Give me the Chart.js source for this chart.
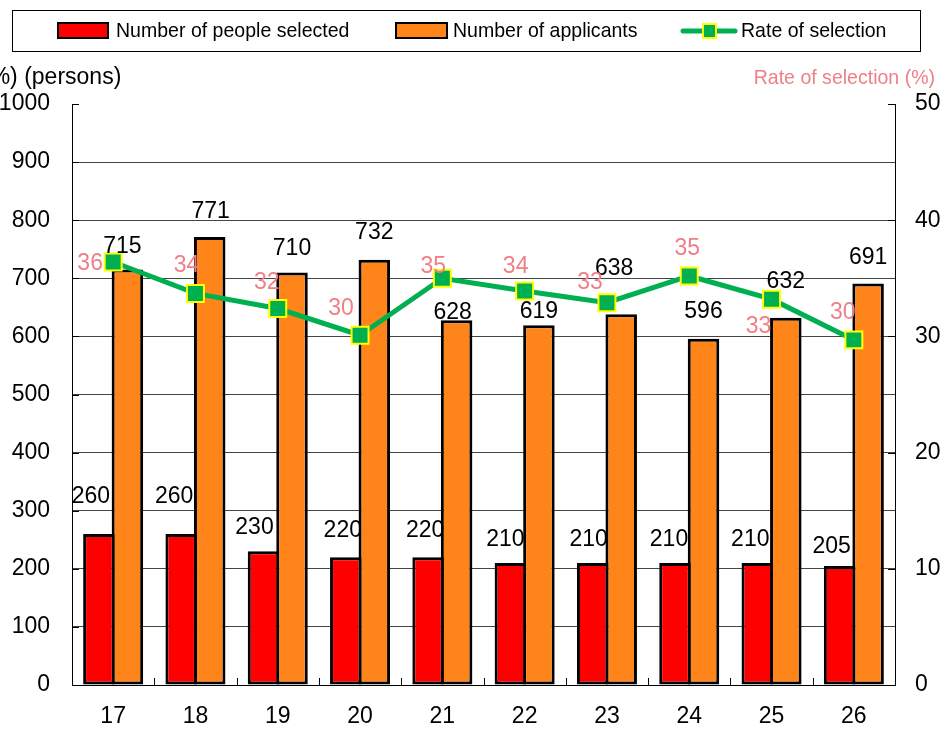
<!DOCTYPE html>
<html><head><meta charset="utf-8">
<script src="https://cdn.jsdelivr.net/npm/chart.js@4/dist/chart.umd.min.js"></script>
<style>html,body{margin:0;padding:0;background:#fff}canvas{display:block}</style>
</head><body>
<canvas id="c" width="943" height="736"></canvas>
<script>
// ---- data ----
const categories = ['17','18','19','20','21','22','23','24','25','26'];
const selected   = [260,260,230,220,220,210,210,210,210,205];
const applicants = [715,771,710,732,628,619,638,596,632,691];
const rates      = [36.4,33.7,32.4,30.1,35.0,33.9,32.9,35.2,33.2,29.7];
const leftTicks  = [0,100,200,300,400,500,600,700,800,900,1000];
const rightTicks = [0,10,20,30,40,50];
const seriesNames = ['Number of people selected','Number of applicants','Rate of selection'];
const leftTitle = '(%) (persons)';
const rightTitle = 'Rate of selection (%)';

// ---- label placement (style) ----
const selShift  = [[-8,-37],[-7,-37],[-9,-24],[-3,-27],[-3,-27],[-5,-23],[-4,-23],[-6,-23],[-7,-23],[-8,-19]];
const appShift  = [[-5,-23],[1,-25],[0,-24],[0,-27],[-4,-7],[0,-14],[-7,-46],[0,-27],[0,-36],[0,-26]];
const rateShift = [[-23,2],[-9,-28],[-11,-26],[-19,-27],[-9,-12],[-9,-24],[-17,-20],[-2,-27],[-13,27],[-11,-27]];

const FONT = "'Liberation Sans', Arial, sans-serif";
const RED = '#FF0000', ORANGE = '#FF8419', GREEN = '#00B050', YELLOW = '#FFFF00', PINK = '#EF7F87';

function txt(ctx, s, x, y, size, color, align, sx) {
  ctx.save();
  ctx.font = size + 'px ' + FONT;
  ctx.fillStyle = color;
  ctx.textAlign = align;
  ctx.textBaseline = 'middle';
  ctx.translate(x, y);
  ctx.scale(sx || 1, 1);
  ctx.fillText(s, 0, 0);
  ctx.restore();
}

const deco = {
  id: 'deco',
  afterDatasetsDraw(chart) {
    const ctx = chart.ctx, ca = chart.chartArea;
    const ys = chart.scales.y, y1 = chart.scales.y1;
    ctx.save();
    ctx.strokeStyle = '#000'; ctx.lineWidth = 1;
    ctx.beginPath();
    leftTicks.forEach(v => { const py = Math.round(ys.getPixelForValue(v)) + 0.5; ctx.moveTo(ca.left, py); ctx.lineTo(ca.left + 7, py); });
    rightTicks.forEach(v => { const py = Math.round(y1.getPixelForValue(v)) + 0.5; ctx.moveTo(ca.right - 7, py); ctx.lineTo(ca.right, py); });
    const cw = (ca.right - ca.left) / categories.length;
    for (let i = 1; i < categories.length; i++) { const px = Math.round(ca.left + i * cw) + 0.5; ctx.moveTo(px, ca.bottom - 7); ctx.lineTo(px, ca.bottom); }
    ctx.stroke();
    ctx.restore();

    // value labels
    const m0 = chart.getDatasetMeta(0), m1 = chart.getDatasetMeta(1), m2 = chart.getDatasetMeta(2);
    m0.data.forEach((el, i) => txt(ctx, String(selected[i]), el.x + selShift[i][0], el.y + selShift[i][1], 23, '#000', 'center'));
    m1.data.forEach((el, i) => txt(ctx, String(applicants[i]), el.x + appShift[i][0], el.y + appShift[i][1], 23, '#000', 'center'));
    m2.data.forEach((el, i) => txt(ctx, String(Math.round(rates[i])), el.x + rateShift[i][0], el.y + rateShift[i][1], 23, PINK, 'center'));
  },
  afterDraw(chart) {
    const ctx = chart.ctx;
    // axis titles
    txt(ctx, leftTitle, -18, 78, 23, '#000', 'left');
    txt(ctx, rightTitle, 935, 78, 21, PINK, 'right', 0.93);
    // legend
    ctx.save();
    ctx.strokeStyle = '#000'; ctx.lineWidth = 1;
    ctx.strokeRect(12.5, 10.5, 908, 41);
    ctx.lineWidth = 2;
    ctx.fillStyle = RED; ctx.fillRect(58, 23, 50, 15); ctx.strokeRect(58, 23, 50, 15);
    ctx.fillStyle = ORANGE; ctx.fillRect(396, 23, 51, 15); ctx.strokeRect(396, 23, 51, 15);
    ctx.strokeStyle = GREEN; ctx.lineWidth = 5; ctx.lineCap = 'round';
    ctx.beginPath(); ctx.moveTo(683, 31); ctx.lineTo(735, 31); ctx.stroke();
    ctx.fillStyle = GREEN; ctx.fillRect(703, 24, 13, 14);
    ctx.strokeStyle = YELLOW; ctx.lineWidth = 2; ctx.strokeRect(703, 24, 13, 14);
    ctx.restore();
    txt(ctx, seriesNames[0], 116, 31, 21, '#000', 'left', 0.93);
    txt(ctx, seriesNames[1], 453, 31, 21, '#000', 'left', 0.93);
    txt(ctx, seriesNames[2], 741, 31, 21, '#000', 'left', 0.93);
  }
};

Chart.defaults.font.family = FONT;

new Chart(document.getElementById('c'), {
  type: 'bar',
  data: {
    labels: categories,
    datasets: [
      { type: 'bar', label: seriesNames[0], data: selected, yAxisID: 'y', order: 2,
        backgroundColor: RED, borderColor: '#000', borderWidth: 3, borderSkipped: false,
        categoryPercentage: 0.693, barPercentage: 1.105 },
      { type: 'bar', label: seriesNames[1], data: applicants, yAxisID: 'y', order: 2,
        backgroundColor: ORANGE, borderColor: '#000', borderWidth: 3, borderSkipped: false,
        categoryPercentage: 0.693, barPercentage: 1.105 },
      { type: 'line', label: seriesNames[2], data: rates, yAxisID: 'y1', order: 0,
        borderColor: GREEN, borderWidth: 5, tension: 0, fill: false,
        pointStyle: 'rect', pointRadius: 12, pointHoverRadius: 12,
        pointBackgroundColor: GREEN, pointBorderColor: YELLOW, pointBorderWidth: 2 }
    ]
  },
  options: {
    responsive: false, animation: false, devicePixelRatio: 1,
    layout: { padding: { top: 104, left: 0, right: 0, bottom: 0 } },
    plugins: { legend: { display: false }, tooltip: { enabled: false } },
    scales: {
      x: {
        grid: { display: false, drawTicks: false },
        border: { display: true, color: '#000', width: 1 },
        ticks: { font: { size: 23 }, color: '#000', padding: 18 },
        afterFit(s) { s.height = 51; }
      },
      y: {
        position: 'left', min: 0, max: 1000,
        afterBuildTicks(s) { s.ticks = leftTicks.map(v => ({ value: v })); },
        grid: { drawTicks: false, lineWidth: 1,
          color: c => (c.tick && (c.tick.value === 1000 || c.tick.value === 0)) ? 'rgba(0,0,0,0)' : '#444' },
        border: { display: true, color: '#000', width: 1 },
        ticks: { font: { size: 23 }, color: '#000', padding: 22, callback: v => String(v) },
        afterFit(s) { s.width = 72; }
      },
      y1: {
        position: 'right', min: 0, max: 50,
        afterBuildTicks(s) { s.ticks = rightTicks.map(v => ({ value: v })); },
        grid: { display: false, drawTicks: false },
        border: { display: true, color: '#000', width: 1 },
        ticks: { font: { size: 23 }, color: '#000', padding: 20, callback: v => String(v) },
        afterFit(s) { s.width = 48; }
      }
    }
  },
  plugins: [deco]
});
</script>
</body></html>
